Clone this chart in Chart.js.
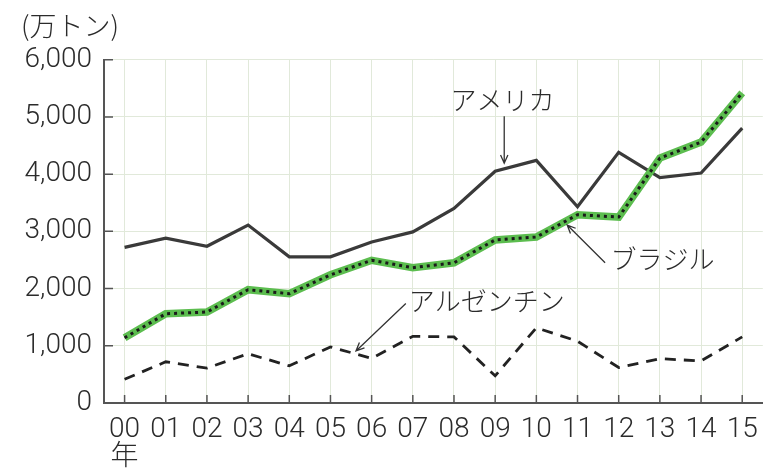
<!DOCTYPE html>
<html lang="ja">
<head>
<meta charset="utf-8">
<script src="https://cdn.jsdelivr.net/npm/chart.js@4/dist/chart.umd.min.js"></script>
<style>
  html, body { margin: 0; padding: 0; background: #fff; }
  #wrap { width: 771px; height: 469px; }
</style>
</head>
<body>
<div id="wrap"><canvas id="chart"></canvas></div>
<script>
// ---- data (万トン) ----
const years = ['00', '01', '02', '03', '04', '05', '06', '07', '08', '09', '10', '11', '12', '13', '14', '15'];
const yearUnit = '年';
const usa = [2720, 2880, 2740, 3110, 2555, 2555, 2815, 2990, 3400, 4050, 4240, 3430, 4380, 3940, 4020, 4805];
const brazil = [1140, 1560, 1590, 1980, 1910, 2240, 2495, 2365, 2450, 2850, 2900, 3290, 3250, 4280, 4560, 5420];
const argentina = [415, 720, 610, 860, 650, 980, 780, 1165, 1155, 475, 1315, 1080, 620, 775, 735, 1155];
const yTicks = [0, 1000, 2000, 3000, 4000, 5000, 6000];
const unitLabel = '(万トン)';

// callouts: text anchor and arrow in (category index, value) coordinates
const callouts = [
  { text: 'アメリカ', align: 'center', at: [9.18, 5300], from: [9.22, 5010], to: [9.22, 4190] },
  { text: 'ブラジル', align: 'left', at: [11.8, 2510], from: [11.67, 2450], to: [10.75, 3110] },
  { text: 'アルゼンチン', align: 'left', at: [6.9, 1780], from: [6.83, 1740], to: [5.62, 910] }
];

const JP_FONT = "'Noto Sans CJK JP', 'Noto Sans', sans-serif";
const NUM_FONT = "Roboto, 'Liberation Sans', 'Noto Sans CJK JP', sans-serif";
const GRID = '#e1e9da';
const AXIS = '#555';

// short tick marks pointing into the plot
const innerTicks = {
  id: 'innerTicks',
  beforeDatasetsDraw(chart) {
    const { ctx, scales: { x, y } } = chart;
    ctx.save();
    ctx.strokeStyle = AXIS;
    ctx.lineWidth = 1.5;
    ctx.beginPath();
    years.forEach((_, i) => {
      const px = x.getPixelForTick(i);
      ctx.moveTo(px, y.bottom);
      ctx.lineTo(px, y.bottom - 8);
    });
    yTicks.forEach(v => {
      const py = y.getPixelForValue(v);
      ctx.moveTo(x.left, py);
      ctx.lineTo(x.left + 9, py);
    });
    ctx.stroke();
    ctx.restore();
  }
};

function arrow(ctx, x1, y1, x2, y2) {
  const ang = Math.atan2(y2 - y1, x2 - x1);
  const len = 9, spread = 0.42;
  ctx.beginPath();
  ctx.moveTo(x1, y1);
  ctx.lineTo(x2, y2);
  ctx.moveTo(x2 - len * Math.cos(ang - spread), y2 - len * Math.sin(ang - spread));
  ctx.lineTo(x2, y2);
  ctx.lineTo(x2 - len * Math.cos(ang + spread), y2 - len * Math.sin(ang + spread));
  ctx.stroke();
}

const calloutLabels = {
  id: 'calloutLabels',
  afterDatasetsDraw(chart) {
    const { ctx, scales: { x, y } } = chart;
    const step = x.getPixelForTick(1) - x.getPixelForTick(0);
    const px = i => x.getPixelForTick(0) + step * i;
    ctx.save();
    ctx.fillStyle = '#2b2b2b';
    ctx.strokeStyle = '#333';
    ctx.lineWidth = 1.3;
    ctx.font = '300 26px ' + JP_FONT;
    ctx.textBaseline = 'middle';
    callouts.forEach(c => {
      ctx.textAlign = c.align;
      ctx.fillText(c.text, px(c.at[0]), y.getPixelForValue(c.at[1]));
      arrow(ctx, px(c.from[0]), y.getPixelForValue(c.from[1]), px(c.to[0]), y.getPixelForValue(c.to[1]));
    });
    ctx.restore();
  }
};

const line = (data, color, width, dash) => ({
  data,
  borderColor: color,
  borderWidth: width,
  borderDash: dash || [],
  pointRadius: 0,
  pointHoverRadius: 0,
  tension: 0,
  fill: false
});

new Chart(document.getElementById('chart'), {
  type: 'line',
  data: {
    labels: years,
    datasets: [
      line(brazil, '#1a1a1a', 3, [3, 4]),
      line(brazil, '#5cbd4f', 7.5),
      line(usa, '#3a3a3a', 3.2),
      line(argentina, '#222', 2.8, [11, 8])
    ]
  },
  options: {
    responsive: true,
    maintainAspectRatio: false,
    animation: false,
    layout: { padding: { left: 21, right: 8, top: 0, bottom: 0 } },
    plugins: {
      legend: { display: false },
      tooltip: { enabled: false },
      title: {
        display: true,
        text: unitLabel,
        align: 'start',
        color: '#2b2b2b',
        font: { family: JP_FONT, size: 27, weight: 300, lineHeight: 1.1 },
        padding: { top: 11, bottom: 19 }
      }
    },
    scales: {
      x: {
        offset: true,
        grid: { color: GRID, lineWidth: 1, drawTicks: false, offset: false },
        border: { color: AXIS, width: 2 },
        ticks: {
          color: '#2b2b2b',
          padding: 13,
          maxRotation: 0,
          autoSkip: false,
          font: { family: NUM_FONT, size: 28, weight: 300, lineHeight: 1.0 },
          callback: (v, i) => i === 0 ? [years[i], yearUnit] : years[i]
        },
        afterFit(scale) { scale.height = 66; }
      },
      y: {
        min: 0,
        max: 6000,
        grid: { color: GRID, lineWidth: 1, drawTicks: false },
        border: { color: AXIS, width: 2 },
        ticks: {
          stepSize: 1000,
          color: '#2b2b2b',
          padding: 12,
          font: { family: NUM_FONT, size: 28, weight: 300 },
          callback: v => v.toLocaleString('en-US')
        },
        afterFit(scale) { scale.width = 83; }
      }
    }
  },
  plugins: [innerTicks, calloutLabels]
});
</script>
</body>
</html>
